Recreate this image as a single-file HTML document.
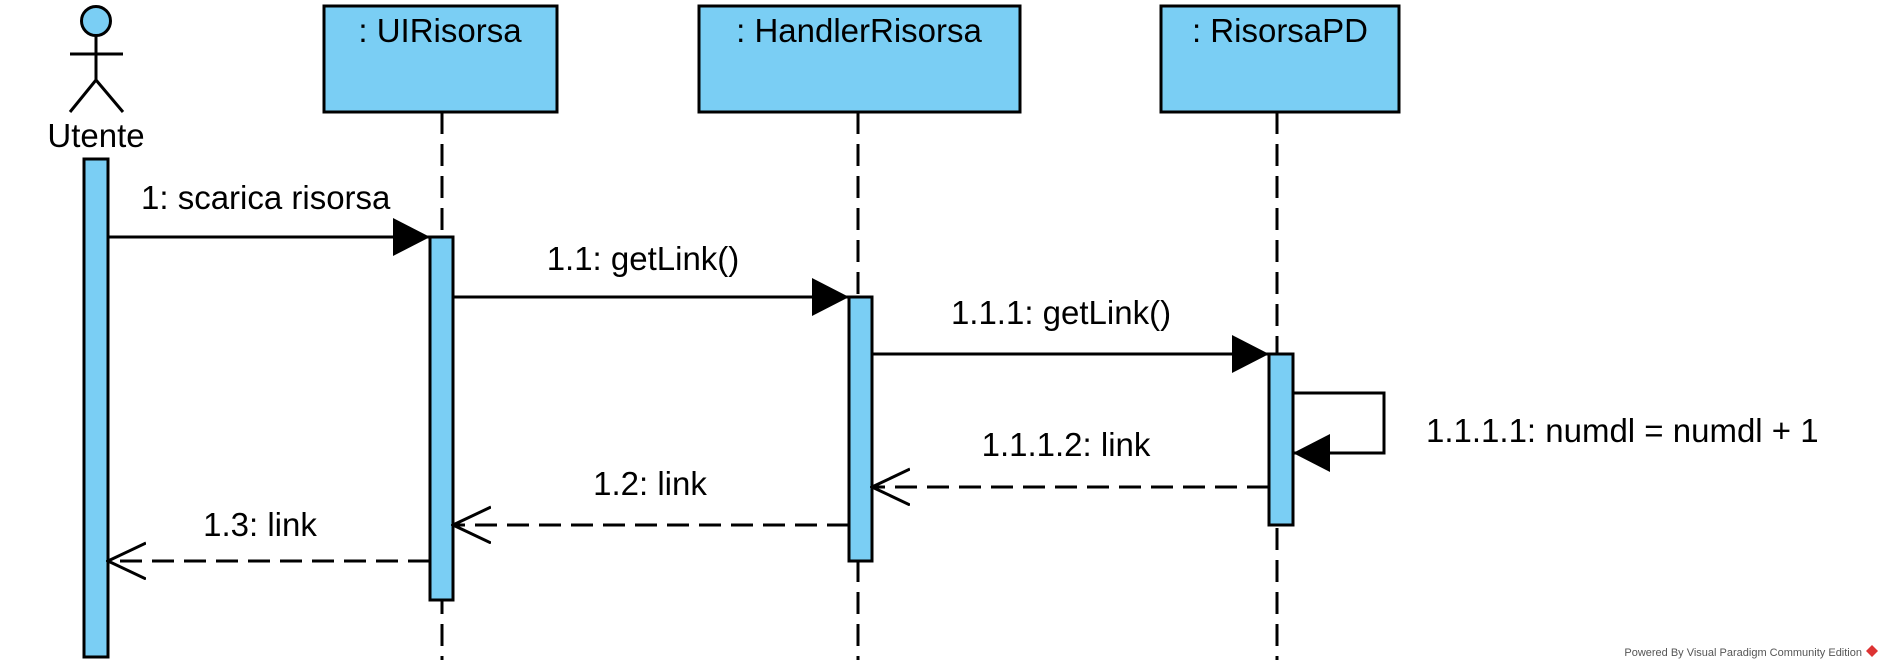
<!DOCTYPE html>
<html><head><meta charset="utf-8"><style>
html,body{margin:0;padding:0;background:#fff;}
svg{display:block;}
text{font-family:"Liberation Sans","DejaVu Sans",sans-serif;font-size:33px;fill:#000;}
</style></head><body>
<svg width="1884" height="669" viewBox="0 0 1884 669" xmlns="http://www.w3.org/2000/svg">
<defs>
<marker id="f" markerWidth="40" markerHeight="40" refX="37" refY="19" orient="auto" markerUnits="userSpaceOnUse">
<path d="M0,0 L37,19 L0,38 Z" fill="#000"/></marker>
<marker id="o" markerWidth="40" markerHeight="40" refX="38" refY="19" orient="auto" markerUnits="userSpaceOnUse">
<path d="M0,1 L38,19 L0,37" fill="none" stroke="#000" stroke-width="3"/></marker>
</defs>
<g stroke="#000" stroke-width="3" fill="none" stroke-dasharray="22,10">
<line x1="442" y1="112" x2="442" y2="660"/>
<line x1="858" y1="112" x2="858" y2="660"/>
<line x1="1277" y1="112" x2="1277" y2="660"/>
</g>
<circle cx="96" cy="21" r="14.5" fill="#7acef4" stroke="#000" stroke-width="3"/>
<g stroke="#000" stroke-width="3">
<line x1="96" y1="36" x2="96" y2="80"/>
<line x1="70" y1="54" x2="123" y2="54"/>
<line x1="96" y1="80" x2="70" y2="112"/>
<line x1="96" y1="80" x2="123" y2="112"/>
</g>
<text x="96" y="147" text-anchor="middle">Utente</text>
<g fill="#7acef4" stroke="#000" stroke-width="3">
<rect x="324" y="6" width="233" height="106"/>
<rect x="699" y="6" width="321" height="106"/>
<rect x="1161" y="6" width="238" height="106"/>
<rect x="84" y="159" width="24" height="498"/>
<rect x="430" y="237" width="23" height="363"/>
<rect x="849" y="297" width="23" height="264"/>
<rect x="1269" y="354" width="24" height="171"/>
</g>
<text x="440" y="42" text-anchor="middle">: UIRisorsa</text>
<text x="859" y="42" text-anchor="middle">: HandlerRisorsa</text>
<text x="1280" y="42" text-anchor="middle">: RisorsaPD</text>
<g stroke="#000" stroke-width="3" fill="none">
<line x1="108" y1="237" x2="430" y2="237" marker-end="url(#f)"/>
<line x1="453" y1="297" x2="849" y2="297" marker-end="url(#f)"/>
<line x1="872" y1="354" x2="1269" y2="354" marker-end="url(#f)"/>
<polyline points="1293,393 1384,393 1384,453 1293,453" marker-end="url(#f)"/>
<g stroke-dasharray="22,10">
<line x1="1269" y1="487" x2="872" y2="487" marker-end="url(#o)"/>
<line x1="849" y1="525" x2="453" y2="525" marker-end="url(#o)"/>
<line x1="430" y1="561" x2="108" y2="561" marker-end="url(#o)"/>
</g>
</g>
<text x="141" y="209">1: scarica risorsa</text>
<text x="643" y="270" text-anchor="middle">1.1: getLink()</text>
<text x="1061" y="324" text-anchor="middle">1.1.1: getLink()</text>
<text x="1426" y="442">1.1.1.1: numdl = numdl + 1</text>
<text x="1066" y="456" text-anchor="middle">1.1.1.2: link</text>
<text x="650" y="495" text-anchor="middle">1.2: link</text>
<text x="260" y="536" text-anchor="middle">1.3: link</text>
<text x="1862" y="656" text-anchor="end" style="font-size:11px;fill:#555">Powered By Visual Paradigm Community Edition</text>
<path d="M1872,645 l6,6 l-6,6 l-6,-6 z" fill="#d33"/>
</svg>
</body></html>
